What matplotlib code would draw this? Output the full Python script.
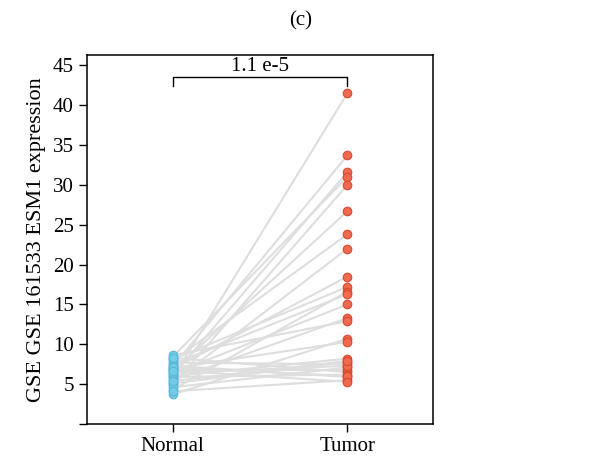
import numpy as np
import matplotlib
matplotlib.use("Agg")
import matplotlib.pyplot as plt

plt.rcParams['font.family'] = ['Liberation Serif', 'DejaVu Serif']

groups = ["Normal", "Tumor"]
normal = [5.8, 7.2, 6.1, 8.4, 4.9, 6.6, 7.9, 5.2, 6.9, 8.1,
          4.3, 7.5, 6.3, 5.5, 8.6, 3.7, 7.0, 6.0, 5.1, 7.7,
          4.6, 6.8, 8.3, 5.9, 7.3, 4.1, 6.4, 7.1, 5.4, 6.7]
tumor = [41.5, 33.7, 31.6, 31.0, 30.0, 26.7, 23.8, 22.0, 18.5, 17.2,
         16.6, 16.3, 15.0, 13.3, 12.9, 10.7, 10.3, 8.2, 7.8, 7.5,
         7.1, 6.8, 6.5, 6.2, 5.9, 5.5, 7.3, 6.0, 7.9, 5.3]
p_label = "1.1 e-5"

fig = plt.figure(figsize=(6.01, 4.61), dpi=100)
ax = fig.add_axes([0.1448, 0.0803, 0.5757, 0.8004])

x = np.arange(len(groups))
for n, t in zip(normal, tumor):
    ax.plot(x, [n, t], color="#dedede", lw=1.5, zorder=1)

ax.scatter(np.zeros(len(normal)), normal, s=38, color="#74cbe6",
           edgecolors="#5ab6d8", linewidths=0.8, zorder=3)
ax.scatter(np.ones(len(tumor)), tumor, s=38, color="#ee6a50",
           edgecolors="#d9482e", linewidths=0.8, zorder=3)

# significance bracket
yb = 43.5
ax.plot([0, 0, 1, 1], [yb - 1.1, yb, yb, yb - 1.1], color="black", lw=1.0)
ax.text(0.5, yb + 0.15, p_label, ha="center", va="bottom", fontsize=15)

ax.set_xlim(-0.49, 1.49)
ax.set_ylim(0, 46.3)
ax.set_yticks([0, 5, 10, 15, 20, 25, 30, 35, 40, 45])
ax.set_yticklabels([""] + [str(v) for v in range(5, 50, 5)])
ax.set_xticks(x)
ax.set_xticklabels(groups)
ax.tick_params(labelsize=15, length=6, width=1)
ax.set_ylabel("GSE GSE 161533 ESM1 expression", fontsize=16, labelpad=5)
for sp in ax.spines.values():
    sp.set_linewidth(1.1)

fig.text(0.5, 0.955, "(c)", ha="center", va="center", fontsize=15)

fig.savefig("out.png", dpi=100)
